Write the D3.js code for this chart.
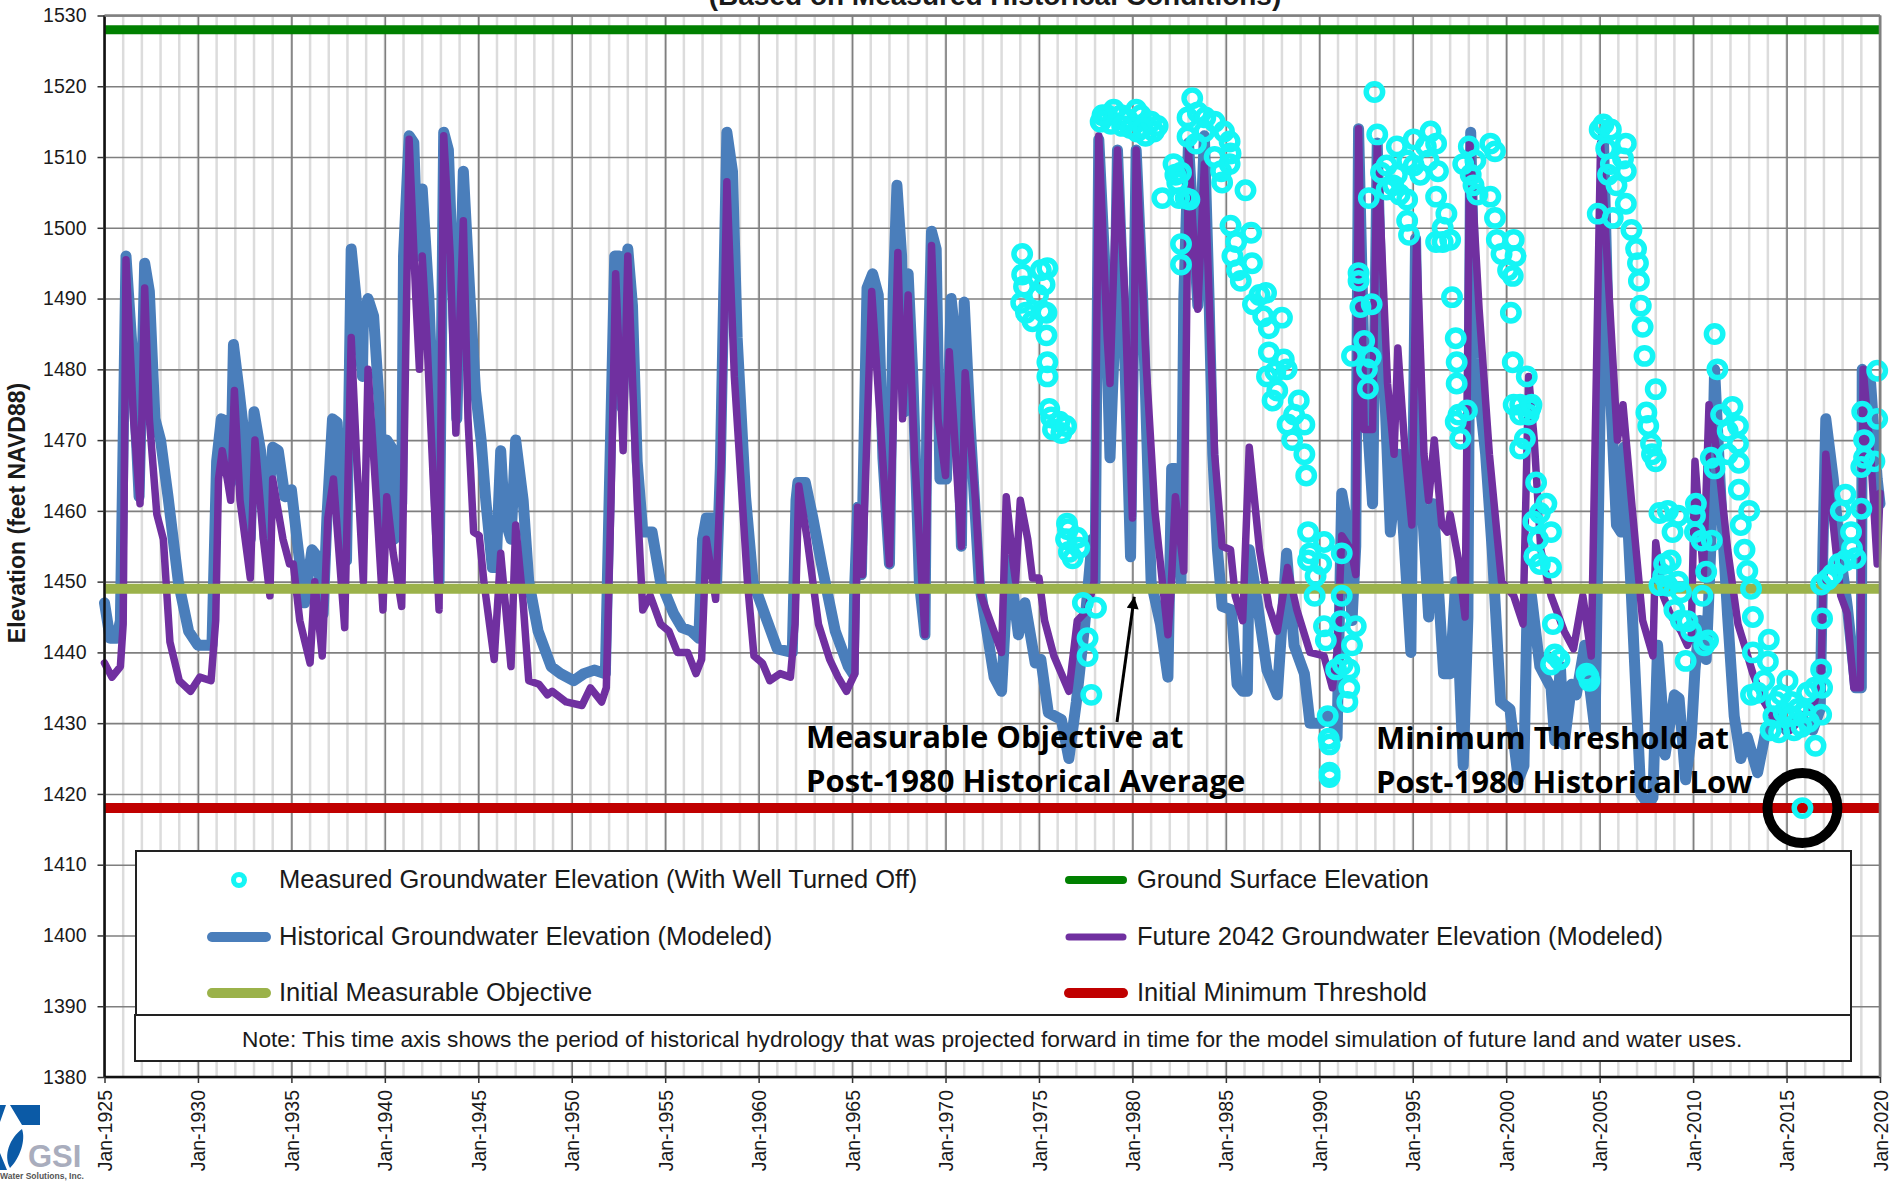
<!DOCTYPE html>
<html>
<head>
<meta charset="utf-8">
<title>Groundwater elevation hydrograph</title>
<script src="https://d3js.org/d3.v7.min.js"></script>
<style>
  body { margin: 0; background: #fff; }
  svg { display: block; }
  text { font-family: "Liberation Sans", Arial, sans-serif; fill: #1a1a1a; }
  .callout { font-family: "Open Sans", sans-serif; font-weight: 700; font-size: 31px; fill: #000; }
</style>
</head>
<body>
<div id="chart"></div>
<script>
'use strict';

var titleText = '(Based on Measured Historical Conditions)';
var yAxisTitle = 'Elevation (feet NAVD88)';
var noteText = 'Note: This time axis shows the period of historical hydrology that was projected forward in time for the model simulation of future land and water uses.';

var elevationTicks = [1380, 1390, 1400, 1410, 1420, 1430, 1440, 1450, 1460, 1470, 1480, 1490, 1500, 1510, 1520, 1530];
var majorYears = [1925, 1930, 1935, 1940, 1945, 1950, 1955, 1960, 1965, 1970, 1975, 1980, 1985, 1990, 1995, 2000, 2005, 2010, 2015, 2020];
var minorYears = d3.range(1925, 2021);

var groundSurface = 1528;
var measurableObjective = 1449;
var minimumThreshold = 1418;
var lowestMeasured = [2015.85, 1418];

// [decimal year, elevation]
var historical = [
  [1925,1447],[1925.3,1442],[1925.65,1442],[1925.85,1444.5],[1926.15,1496],[1926.5,1482],[1926.85,1462],[1927.15,1495],
  [1927.4,1491],[1927.7,1473],[1928,1470],[1928.4,1462],[1928.95,1450],[1929.5,1443],[1930,1441],[1930.75,1441],
  [1931,1467],[1931.25,1473],[1931.6,1472.5],[1931.75,1464],[1931.9,1483.5],[1932.2,1477],[1932.5,1470],[1932.8,1456],
  [1933,1474],[1933.35,1468.5],[1933.6,1456],[1934,1469],[1934.3,1468.5],[1934.65,1462],[1935,1463],[1935.3,1456],
  [1935.7,1447],[1936.1,1454.5],[1936.4,1453.5],[1936.7,1445.5],[1936.9,1459],[1937.2,1473],[1937.45,1472.5],[1937.75,1456],
  [1937.95,1453],[1938.2,1497],[1938.5,1489],[1938.8,1479],[1938.85,1487],[1939.1,1490],[1939.4,1487.5],[1939.75,1473],
  [1939.95,1456],[1940.1,1470],[1940.35,1469],[1940.5,1456],[1940.65,1466],[1940.9,1461],[1941,1496],[1941.3,1513],
  [1941.55,1512],[1941.75,1496],[1942,1505.5],[1942.35,1490.5],[1942.6,1473],[1942.9,1450],[1943.15,1513.5],[1943.4,1511],
  [1943.6,1496],[1943.85,1473],[1944.2,1508],[1944.55,1490.5],[1944.85,1477],[1945.15,1470],[1945.4,1461.5],[1945.75,1452],
  [1945.95,1452],[1946.2,1468.5],[1946.4,1459],[1946.75,1456],[1947,1470],[1947.4,1461.5],[1947.7,1450],[1948.2,1443],
  [1948.9,1438],[1949.4,1437],[1950.1,1436],[1950.65,1437],[1951.2,1437.5],[1951.8,1437],[1952,1461.5],[1952.3,1496],
  [1952.55,1496],[1952.7,1474.5],[1953,1497],[1953.25,1489],[1953.5,1467],[1953.8,1457],[1954.3,1457],[1954.75,1450],
  [1955.45,1445.5],[1955.9,1443.5],[1956.4,1443],[1956.8,1442],[1957,1456],[1957.2,1459],[1957.55,1459],[1957.75,1450],
  [1957.95,1466],[1958.3,1513.5],[1958.6,1508],[1958.85,1484.5],[1959.3,1462],[1959.7,1450],[1960.45,1444.5],[1961,1440.5],
  [1961.8,1440],[1962,1461.5],[1962.1,1464],[1962.5,1464],[1962.9,1459],[1963.4,1452],[1964.1,1443],[1964.8,1438],
  [1965.05,1437],[1965.15,1450],[1965.3,1460.5],[1965.5,1451],[1965.8,1491.5],[1966.1,1493.5],[1966.4,1490.5],[1966.65,1467.5],
  [1967,1452.5],[1967.2,1490.5],[1967.4,1506],[1967.65,1496],[1967.8,1474],[1968,1493.5],[1968.25,1479],[1968.6,1450],
  [1968.9,1442.5],[1969,1473],[1969.25,1499.5],[1969.5,1497],[1969.7,1464.5],[1970.05,1464.5],[1970.3,1490],[1970.6,1482.5],
  [1970.85,1455],[1971,1489.5],[1971.3,1473],[1971.8,1450],[1972.6,1436.5],[1973,1434.5],[1973.2,1444.5],[1973.4,1453],
  [1973.9,1442.5],[1974.25,1447],[1974.8,1438.5],[1975.1,1439],[1975.5,1431.5],[1976.2,1430.5],[1976.6,1425],[1977,1433],
  [1977.45,1444],[1977.85,1456],[1978,1450],[1978.2,1512.5],[1978.5,1496],[1978.8,1467.5],[1979.05,1485],[1979.2,1511],
  [1979.5,1490],[1979.9,1453.5],[1980.2,1511],[1980.55,1490],[1981,1450],[1981.5,1444],[1981.9,1436.5],[1982.1,1466],
  [1982.3,1466],[1982.6,1450],[1982.75,1490],[1983,1512],[1983.5,1489],[1983.85,1513],[1984.1,1490],[1984.3,1468],
  [1984.55,1454.5],[1984.8,1446.5],[1985.3,1446],[1985.6,1435.5],[1985.9,1434.5],[1986.15,1434.5],[1986.25,1454.5],[1986.6,1448.5],
  [1987.2,1437.5],[1987.75,1434],[1988.25,1454],[1988.65,1441],[1989.2,1437],[1989.5,1430],[1990.1,1430],[1990.6,1431.5],
  [1990.95,1428],[1991.2,1462.5],[1991.5,1458],[1991.75,1444.5],[1991.95,1455],[1992.1,1514],[1992.4,1480],[1992.85,1461],
  [1993.1,1512],[1993.3,1490],[1993.8,1457],[1994.25,1468],[1994.9,1440],[1995.15,1498.5],[1995.35,1468],[1995.85,1445],
  [1996.1,1461],[1996.65,1437],[1997,1437],[1997.3,1450],[1997.7,1424],[1997.95,1445],[1998.1,1513.5],[1998.35,1481.5],
  [1998.9,1468],[1999.25,1454.5],[1999.7,1433],[2000.2,1432],[2000.65,1422],[2000.95,1424],[2001.1,1444],[2001.35,1448],
  [2001.8,1438],[2002.4,1435],[2002.6,1427.5],[2002.9,1438],[2003.1,1427],[2003.5,1435.5],[2003.75,1434],[2004.2,1441],
  [2004.75,1429],[2005,1470],[2005.2,1513],[2005.5,1481.5],[2005.9,1458],[2006.15,1457],[2006.3,1469],[2006.7,1448],
  [2007.2,1420],[2007.6,1418.5],[2007.85,1419.5],[2008.1,1441],[2008.3,1434],[2008.5,1425.5],[2009,1434],[2009.25,1433.5],
  [2009.6,1422],[2009.9,1428],[2010.1,1437.5],[2010.35,1444.5],[2010.7,1439],[2010.95,1455],[2011.15,1480],[2011.5,1461],
  [2011.85,1445],[2012.2,1431],[2012.55,1425],[2012.9,1428],[2013.45,1423],[2013.9,1429],[2014.4,1431],[2015,1429],
  [2015.7,1431],[2016.4,1429],[2016.8,1432],[2016.95,1455],[2017.1,1473],[2017.5,1464.5],[2017.85,1454.5],[2018.25,1446.5],
  [2018.7,1435],[2019,1435],[2019.05,1480],[2019.5,1478],[2019.85,1464.5],[2020,1461]
];

var future = [
  [1925,1438.5],[1925.4,1436.5],[1925.85,1438],[1926,1444],[1926.15,1495.5],[1926.55,1473],[1926.9,1461],[1927.15,1491.5],
  [1927.4,1473],[1927.8,1459.5],[1928.15,1456],[1928.5,1441.5],[1929,1436],[1929.2,1435.5],[1929.6,1434.5],[1930.1,1436.5],
  [1930.7,1436],[1930.95,1444.5],[1931.1,1464.5],[1931.3,1468.5],[1931.6,1464],[1931.75,1461.5],[1931.95,1477],[1932.25,1461.5],
  [1932.8,1450.5],[1933.05,1470],[1933.5,1456],[1933.85,1448],[1934,1464.5],[1934.55,1456],[1934.9,1452.5],[1935.1,1452.5],
  [1935.45,1444.5],[1936,1438.5],[1936.25,1450],[1936.65,1439.5],[1936.95,1459],[1937.25,1464.5],[1937.85,1443.5],[1938.2,1484.5],
  [1938.5,1467],[1938.85,1450],[1939.1,1480],[1939.55,1461.5],[1939.9,1446],[1940.1,1462],[1940.45,1454],[1940.9,1446.5],
  [1941.3,1512.5],[1941.65,1490.5],[1941.85,1480],[1942,1496],[1942.25,1484.5],[1942.9,1446],[1943.15,1513],[1943.5,1496],
  [1943.8,1471],[1944.2,1501],[1944.45,1473],[1944.75,1457],[1945.05,1456.5],[1945.3,1450],[1945.85,1439],[1946.2,1454],
  [1946.75,1438],[1947,1458],[1947.4,1447],[1947.7,1436],[1948.25,1435.5],[1948.7,1434],[1948.95,1434.5],[1949.7,1433],
  [1950.55,1432.5],[1951,1435],[1951.6,1433],[1951.85,1435],[1952.1,1461.5],[1952.35,1493.5],[1952.75,1468.5],[1953,1496],
  [1953.5,1461.5],[1953.8,1446],[1954.2,1448],[1954.75,1444],[1955.2,1443],[1955.65,1440],[1956.2,1440],[1956.65,1437],
  [1956.95,1439],[1957.2,1456],[1957.7,1447.5],[1958,1467],[1958.3,1506.5],[1958.7,1479],[1959.4,1450],[1959.75,1439.5],
  [1960.2,1438.5],[1960.6,1436],[1961.15,1437],[1961.7,1436.5],[1961.95,1444],[1962.15,1463.5],[1962.6,1456],[1963.2,1444],
  [1963.8,1439],[1964.25,1436.5],[1964.7,1434.5],[1965.15,1437],[1965.3,1460.5],[1965.55,1451],[1966.05,1491],[1966.5,1473],
  [1967,1452.5],[1967.45,1496.5],[1967.7,1473],[1968,1490.5],[1968.35,1467.5],[1968.9,1442.5],[1969.25,1497.5],[1969.6,1473],
  [1970,1465],[1970.2,1482.5],[1970.85,1455],[1971.05,1479.5],[1971.6,1461.5],[1971.9,1448],[1973,1440],[1973.25,1462],
  [1973.6,1453],[1973.75,1450],[1974,1461.5],[1974.4,1456],[1974.65,1450.5],[1975,1450.5],[1975.3,1444.5],[1975.8,1439.5],
  [1976.6,1434.5],[1977.05,1444.5],[1977.6,1446],[1977.95,1450],[1978.2,1513],[1978.65,1484.5],[1978.8,1478],[1979.2,1511],
  [1979.6,1490],[1980,1459],[1980.2,1511],[1980.75,1480],[1981.2,1460],[1981.9,1442.5],[1982.05,1448],[1982.3,1462],
  [1982.75,1451.5],[1983,1511],[1983.5,1488.5],[1983.85,1509],[1984.4,1468],[1984.8,1455],[1985.25,1454.5],[1985.5,1448],
  [1985.9,1444.5],[1986.25,1469],[1986.8,1454.5],[1987.3,1446.5],[1987.75,1443],[1988.3,1452],[1988.8,1446],[1989.5,1440],
  [1990.25,1439.5],[1990.7,1435],[1990.95,1440],[1991.2,1456.5],[1991.7,1454.5],[1991.95,1451],[1992.1,1514],[1992.4,1471.5],
  [1992.85,1471.5],[1993.1,1512],[1993.65,1478],[1994,1468],[1994.2,1483],[1994.6,1468],[1994.95,1458],[1995.2,1498.5],
  [1995.6,1468],[1995.85,1461.5],[1996.15,1470],[1996.55,1458],[1996.85,1457],[1997,1459.5],[1997.45,1453],[1997.8,1445],
  [1998.05,1512],[1998.55,1488.5],[1999.1,1468],[1999.75,1450],[2000.4,1448],[2000.9,1444],[2001.2,1479],[2001.5,1470],
  [2001.85,1454.5],[2002.4,1448],[2003.1,1443],[2003.6,1440.5],[2004.1,1448],[2004.55,1439.5],[2005.05,1512],[2005.55,1488.5],
  [2005.95,1470],[2006.25,1475],[2006.7,1461.5],[2007.3,1444.5],[2007.85,1439.5],[2008,1455.5],[2008.4,1448],[2008.85,1445],
  [2009.35,1443],[2009.7,1441],[2009.9,1442.5],[2010.1,1467],[2010.55,1451],[2010.85,1475],[2011.3,1468],[2011.85,1454.5],
  [2012.4,1444],[2012.75,1441],[2013.2,1437],[2013.8,1433],[2014.5,1430],[2015.2,1429],[2015.9,1431],[2016.5,1433],
  [2016.85,1437],[2017.1,1468],[2017.9,1448],[2018.25,1445.5],[2018.6,1435],[2018.95,1435],[2019.1,1480],[2019.5,1468],
  [2019.85,1452.5],[2020,1462.5]
];

var measured = [
  [1974.1,1496.3],[1974.1,1493.4],[1974.05,1489.4],[1974.2,1491.7],[1975.1,1494],[1975.45,1494.3],[1975.3,1492],[1974.95,1490.5],
  [1974.3,1488],[1974.65,1486.8],[1975.2,1488.2],[1975.4,1488],[1975.4,1484.8],[1975.45,1481],[1975.45,1479],[1975.55,1474.4],
  [1975.65,1473.2],[1976.1,1472.6],[1976.2,1471],[1975.75,1471.5],[1976.45,1472],
  [1976.5,1458.2],[1976.55,1457.4],[1976.45,1456],[1977.05,1456.2],[1976.6,1454.2],[1976.8,1453.3],[1977.15,1454.8],
  [1977.35,1447],[1978.05,1446.3],[1977.6,1442],[1977.6,1439.5],[1977.8,1434],
  [1978.3,1515],[1978.65,1515.9],[1979,1516.7],[1979.4,1515.9],[1978.85,1514.7],[1979.75,1515.3],[1980.2,1516.7],[1980.45,1515.9],
  [1979.9,1514.1],[1980.25,1513.6],[1980.7,1513],[1981.15,1513.6],[1981.35,1514.4],[1981,1515],[1980.55,1514.1],[1978.4,1515.9],[1979.45,1514.4],
  [1982.2,1509],[1982.3,1507.5],[1982.4,1506.4],[1981.6,1504.2],[1982.5,1504.2],[1982.85,1504.2],[1982.6,1497.7],[1982.6,1494.8],
  [1983.2,1518.3],[1982.95,1515.6],[1983.5,1516.3],[1983.9,1515.6],[1984.4,1515],[1984.9,1513.6],[1985.2,1512.2],[1985.25,1510.5],
  [1984.75,1508],[1984.4,1510],[1983.85,1513.6],[1983.4,1511.9],[1982.95,1512.9],[1984.8,1506.4],[1985.2,1509],[1982.6,1507.8],
  [1983.05,1504],[1986.05,1505.3],
  [1985.25,1500.3],[1986.35,1499.3],[1985.55,1498],[1985.35,1496],[1986.4,1495],[1985.6,1494],[1985.8,1492.5],[1986.8,1490.5],
  [1986.45,1489.2],[1987.15,1490.8],[1987,1487.5],[1988,1487.3],[1987.3,1485.8],[1987.3,1482.4],[1988.1,1481.4],[1987.65,1479.7],
  [1988.25,1480],[1987.2,1479],[1987.75,1477],[1987.5,1475.6],[1988.9,1475.6],[1988.65,1473.6],[1988.3,1472.2],[1989.2,1472.2],
  [1988.55,1470],[1989.2,1468],[1989.3,1465],
  [1989.4,1457],[1990.25,1455.6],[1989.5,1454],[1990.1,1452.5],[1989.4,1453],[1989.8,1450.8],[1991.2,1454],[1989.75,1448],
  [1991.2,1448],[1990.25,1443.7],[1991.95,1443.7],[1990.35,1441.7],[1991.75,1441],[1991.15,1444.4],[1990.9,1437.6],[1991.6,1437.6],
  [1991.25,1438.3],[1991.6,1435],[1991.5,1433],[1990.45,1431],[1990.5,1427.8],[1990.55,1427],[1990.55,1422.4],[1990.55,1423],
  [1992.1,1493.6],[1992.1,1492.5],[1992.2,1488.8],[1992.8,1489.2],[1992.4,1484],[1991.75,1481.9],[1992.75,1481.7],[1992.55,1480],
  [1992.6,1477.3],[1992.95,1519.2],[1993.1,1513.2],
  [1993.3,1507.8],[1992.65,1504.2],[1993.6,1505.4],[1994.15,1511.5],[1995.05,1512.5],[1995.95,1513.6],[1996.25,1511.9],[1995.7,1511.5],
  [1996.35,1508],[1995.05,1508.8],[1994.15,1507.5],[1994.7,1509.5],[1993.6,1508.8],[1993.95,1506],[1994.3,1504.7],[1994.7,1504],
  [1995.4,1507.5],[1995.85,1509.5],[1994.7,1501],[1994.8,1499],
  [1996.25,1504.4],[1996.8,1502],[1996.6,1500],[1997,1498.3],[1996.25,1498],[1996.6,1498],[1997.1,1490.2],[1997.3,1484.4],
  [1997.35,1481],[1997.35,1478],[1997.9,1474.2],[1997.45,1473.6],[1997.3,1472.6],[1997.55,1470.2],
  [1998,1511.5],[1999.15,1511.9],[1998.35,1509.5],[1997.7,1509],[1998.1,1507.5],[1998.45,1504.7],[1998.25,1506],[1999.4,1510.8],
  [1999.15,1504.4],[1999.4,1501.4],[1999.5,1498.3],[2000.4,1498.3],[1999.75,1496.3],[2000.5,1496],[2000.1,1494],[2000.35,1493.2],
  [2000.25,1488],[2000.35,1481],[2001.1,1479],
  [2000.4,1475],[2000.75,1475],[2001.3,1474.5],[2000.75,1473.6],[2001.2,1473.6],[2001,1470.2],[2000.75,1468.8],[2001.35,1475],
  [2001.6,1464],[2002.15,1461],[2001.8,1459.7],[2002.4,1457],[2001.7,1456],[2001.8,1452.5],[2002.4,1452],[2001.5,1453.6],[2001.45,1458.5],
  [2002.5,1444],[2002.6,1439.7],[2002.85,1439],[2002.4,1438.3],[2004.4,1436.6],[2004.3,1437],[2004.45,1436],
  [2005,1513.9],[2005.2,1514.6],[2005.6,1513.9],[2004.9,1502],[2005.7,1501.4],[2006.4,1511.9],[2006.25,1509.8],[2006.4,1508],
  [2005.6,1509],[2005.9,1506],[2005.45,1507.5],[2005.35,1511.2],[2006.4,1503.4],[2006.7,1499.7],[2006.95,1497],[2007.05,1495],
  [2007.1,1492.5],[2007.2,1489],[2007.3,1486],[2007.4,1481.9],[2008,1477.2],[2007.5,1473.9],[2007.6,1472],[2007.75,1469.5],
  [2008,1467],[2007.8,1468],
  [2008.2,1459.7],[2008.65,1460],[2008.9,1457],[2009.2,1459.3],[2008.45,1452.5],[2008.8,1453],[2008.4,1450.8],[2008.65,1449.4],
  [2009.2,1450],[2008.2,1449.5],[2009.35,1448.5],[2009,1446],[2009.35,1444.5],[2009.6,1438.8],[2009.9,1443],[2010.15,1461],
  [2010.1,1459.3],[2010.5,1448],[2010.7,1451.4],[2010.45,1455.8],[2011,1455.8],[2010.6,1441],[2010.8,1441.7],[2010.1,1457],[2009.7,1444.4],
  [2011.15,1485],[2011.3,1480],[2012.1,1474.7],[2011.5,1473.6],[2012.4,1472],[2011.85,1471.3],[2012.4,1469.5],[2010.95,1467.5],
  [2011.15,1466],[2012.45,1466.8],[2011.85,1468],[2012.45,1463],[2013,1460],[2012.55,1458],[2012.75,1454.5],[2012.9,1451.5],
  [2013.1,1449],[2013.2,1445],[2014.05,1441.8],[2013.2,1440],[2014,1438.7],[2013.45,1434.3],[2013.1,1434],
  [2013.8,1436],[2015.05,1436],[2014.45,1433],[2014.15,1429],[2014.6,1428.7],[2015.4,1429],[2015.6,1432],[2014.85,1431.5],
  [2016.1,1434.3],[2016.5,1435],[2016.85,1437.6],[2016.85,1431.2],[2016.55,1426.8],[2016.2,1430.2],[2016.9,1435],[2016.9,1444.8],
  [2014.3,1431],[2014.7,1434],[2015.25,1433],[2015.8,1429.5],[2016,1431.5],[2015.3,1431],
  lowestMeasured,
  [2016.85,1449.6],[2017.2,1450.3],[2017.45,1451],[2017.8,1452.5],[2018.15,1453],[2018.7,1453.3],[2017.9,1460],[2018.15,1462.3],
  [2019,1460.3],[2018.45,1457],[2018.5,1454.7],[2019,1466.2],[2019.15,1467.5],[2019.7,1467],[2019.05,1474],[2019.85,1473],
  [2019.15,1470],[2019.85,1479.8]
];

var legendLeft = [
  {label: 'Measured Groundwater Elevation (With Well Turned Off)', kind: 'circle'},
  {label: 'Historical Groundwater Elevation (Modeled)', color: '#4a7ebb', thick: 10},
  {label: 'Initial Measurable Objective', color: '#9bb24a', thick: 10}
];
var legendRight = [
  {label: 'Ground Surface Elevation', color: '#008000', thick: 8},
  {label: 'Future 2042 Groundwater Elevation (Modeled)', color: '#7030a0', thick: 7},
  {label: 'Initial Minimum Threshold', color: '#c00000', thick: 10}
];

var width = 1893, height = 1182;
var plot = {left: 104.5, right: 1880, top: 15.5, bottom: 1077};

var svg = d3.select('#chart').append('svg')
    .attr('width', width)
    .attr('height', height);

var x = d3.scaleLinear().domain([1925, 2020]).range([plot.left, plot.right]);
var y = d3.scaleLinear().domain([1380, 1530]).range([plot.bottom, plot.top]);

var line = d3.line()
    .x(function(d) { return x(d[0]); })
    .y(function(d) { return y(d[1]); });

// title runs off the top of the picture in the original
svg.append('text')
    .attr('x', 995).attr('y', 5)
    .attr('text-anchor', 'middle')
    .attr('font-weight', 'bold')
    .attr('font-size', 28)
    .text(titleText);

// grids
svg.append('g').selectAll('line')
    .data(minorYears).enter().append('line')
    .attr('x1', x).attr('x2', x)
    .attr('y1', plot.top).attr('y2', plot.bottom)
    .attr('stroke', '#dcdcdc')
    .attr('stroke-width', 2.5);

var xGrid = svg.append('g')
    .attr('transform', 'translate(0,' + plot.bottom + ')')
    .call(d3.axisBottom(x).tickValues(majorYears).tickSize(-(plot.bottom - plot.top)).tickFormat(''));
var yGrid = svg.append('g')
    .attr('transform', 'translate(' + plot.left + ',0)')
    .call(d3.axisLeft(y).tickValues(elevationTicks).tickSize(-(plot.right - plot.left)).tickFormat(''));
[xGrid, yGrid].forEach(function(g) {
  g.select('.domain').remove();
  g.selectAll('line').attr('stroke', '#7f7f7f').attr('stroke-width', 1.6);
});

// series
svg.append('path').datum(historical)
    .attr('d', line)
    .attr('fill', 'none')
    .attr('stroke', '#4a7ebb')
    .attr('stroke-width', 11)
    .attr('stroke-linejoin', 'round')
    .attr('stroke-linecap', 'round');
svg.append('path').datum(future)
    .attr('d', line)
    .attr('fill', 'none')
    .attr('stroke', '#7030a0')
    .attr('stroke-width', 7.5)
    .attr('stroke-linejoin', 'round')
    .attr('stroke-linecap', 'round');

var levels = [
  {value: measurableObjective, color: '#9bb24a', thick: 10},
  {value: groundSurface, color: '#008000', thick: 9},
  {value: minimumThreshold, color: '#c00000', thick: 10}
];
svg.append('g').selectAll('line')
    .data(levels).enter().append('line')
    .attr('x1', x(1925)).attr('x2', x(2020))
    .attr('y1', function(d) { return y(d.value); })
    .attr('y2', function(d) { return y(d.value); })
    .attr('stroke', function(d) { return d.color; })
    .attr('stroke-width', function(d) { return d.thick; });

svg.append('g').selectAll('circle')
    .data(measured).enter().append('circle')
    .attr('cx', function(d) { return x(d[0]); })
    .attr('cy', function(d) { return y(d[1]); })
    .attr('r', 8.2)
    .attr('fill', 'none')
    .attr('stroke', '#14f5f5')
    .attr('stroke-width', 5.5);

// low point marker
svg.append('circle').datum(lowestMeasured)
    .attr('cx', function(d) { return x(d[0]); })
    .attr('cy', function(d) { return y(d[1]); })
    .attr('r', 35)
    .attr('fill', 'none')
    .attr('stroke', '#000')
    .attr('stroke-width', 10);

// frame
svg.append('line').attr('x1', plot.left).attr('x2', plot.left).attr('y1', plot.top).attr('y2', plot.bottom)
    .attr('stroke', '#111').attr('stroke-width', 2.5);
svg.append('line').attr('x1', plot.left).attr('x2', plot.right).attr('y1', plot.bottom).attr('y2', plot.bottom)
    .attr('stroke', '#111').attr('stroke-width', 2.5);
svg.append('line').attr('x1', plot.right).attr('x2', plot.right).attr('y1', plot.top).attr('y2', plot.bottom)
    .attr('stroke', '#808080').attr('stroke-width', 2.5);
svg.append('line').attr('x1', plot.left).attr('x2', plot.right).attr('y1', plot.top).attr('y2', plot.top)
    .attr('stroke', '#808080').attr('stroke-width', 2.5);

// axes
var yAxis = svg.append('g')
    .attr('transform', 'translate(' + plot.left + ',0)')
    .call(d3.axisLeft(y).tickValues(elevationTicks).tickSize(7).tickPadding(11).tickFormat(d3.format('d')));
yAxis.select('.domain').remove();
yAxis.selectAll('line').attr('stroke', '#333').attr('stroke-width', 1.5);
yAxis.selectAll('text').attr('font-size', 19.5).attr('fill', '#1a1a1a')
    .style('font-family', '"Liberation Sans", Arial, sans-serif');

var xAxis = svg.append('g')
    .attr('transform', 'translate(0,' + plot.bottom + ')')
    .call(d3.axisBottom(x).tickValues(majorYears).tickSize(6)
      .tickFormat(function(d) { return 'Jan-' + d; }));
xAxis.select('.domain').remove();
xAxis.selectAll('line').attr('stroke', '#333').attr('stroke-width', 1.5);
xAxis.selectAll('text')
    .attr('transform', 'rotate(-90)')
    .attr('text-anchor', 'end')
    .attr('x', -13)
    .attr('y', 0)
    .attr('dy', '0.36em')
    .attr('font-size', 19.5)
    .attr('fill', '#1a1a1a')
    .style('font-family', '"Liberation Sans", Arial, sans-serif');

svg.append('text')
    .attr('transform', 'translate(25,513) rotate(-90)')
    .attr('text-anchor', 'middle')
    .attr('font-weight', 'bold')
    .attr('font-size', 23)
    .text(yAxisTitle);

// legend and note boxes
svg.append('rect')
    .attr('x', 136).attr('y', 851).attr('width', 1715).attr('height', 164)
    .attr('fill', '#fff').attr('stroke', '#222').attr('stroke-width', 2);
svg.append('rect')
    .attr('x', 135).attr('y', 1015).attr('width', 1716).attr('height', 46)
    .attr('fill', '#fff').attr('stroke', '#222').attr('stroke-width', 2);

var rowY = [880, 937, 993];

function drawLegendColumn(items, swatchX, textX) {
  var rows = svg.append('g').selectAll('g')
      .data(items).enter().append('g')
      .attr('transform', function(d, i) { return 'translate(0,' + rowY[i] + ')'; });
  rows.append('text')
      .attr('x', textX)
      .attr('y', 8)
      .attr('font-size', 25.5)
      .text(function(d) { return d.label; });
  rows.each(function(d) {
    var row = d3.select(this);
    if (d.kind === 'circle') {
      row.append('circle')
          .attr('cx', swatchX + 31).attr('cy', 0).attr('r', 5.5)
          .attr('fill', 'none').attr('stroke', '#14f5f5').attr('stroke-width', 5);
    } else {
      row.append('line')
          .attr('x1', swatchX + 4).attr('x2', swatchX + 58)
          .attr('stroke', d.color).attr('stroke-width', d.thick)
          .attr('stroke-linecap', 'round');
    }
  });
}
drawLegendColumn(legendLeft, 208, 279);
drawLegendColumn(legendRight, 1065, 1137);

svg.append('text')
    .attr('x', 242).attr('y', 1047)
    .attr('font-size', 22.7)
    .text(noteText);

// callouts
var arrowHead = svg.append('defs').append('marker')
    .attr('id', 'arrowHead')
    .attr('viewBox', '0 -5 10 10')
    .attr('refX', 10)
    .attr('markerWidth', 5)
    .attr('markerHeight', 4)
    .attr('orient', 'auto');
arrowHead.append('path').attr('d', 'M0,-5 L10,0 L0,5 Z').attr('fill', '#000');

svg.append('line')
    .attr('x1', 1117).attr('y1', 722)
    .attr('x2', x(1980.1)).attr('y2', y(1449) + 8)
    .attr('stroke', '#000').attr('stroke-width', 3)
    .attr('marker-end', 'url(#arrowHead)');

var callouts = [
  {x: 806, y: 748, text: 'Measurable Objective at'},
  {x: 806, y: 792, text: 'Post-1980 Historical Average'},
  {x: 1376, y: 749, text: 'Minimum Threshold at'},
  {x: 1376, y: 793, text: 'Post-1980 Historical Low'}
];
svg.append('g').selectAll('text')
    .data(callouts).enter().append('text')
    .attr('class', 'callout')
    .attr('x', function(d) { return d.x; })
    .attr('y', function(d) { return d.y; })
    .text(function(d) { return d.text; });

// logo, bottom left corner
var logo = svg.append('g');
logo.append('path')
    .attr('d', 'M10,1105 L40,1105 L40,1125 L22,1125 Z M0,1105 L6,1105 L0,1122 Z M22,1129 C26,1140 20,1158 10,1168 C3,1155 10,1138 22,1129 Z M0,1153 L7,1170 L0,1170 Z')
    .attr('fill', '#0b5aa6');
logo.append('text')
    .attr('x', 28).attr('y', 1167)
    .attr('font-size', 31)
    .attr('font-weight', 'bold')
    .style('fill', '#a9adbd')
    .text('GSI');
logo.append('text')
    .attr('x', 0).attr('y', 1179)
    .attr('font-size', 8.5)
    .attr('font-weight', 'bold')
    .style('fill', '#555')
    .text('Water Solutions, Inc.');
</script>
</body>
</html>
